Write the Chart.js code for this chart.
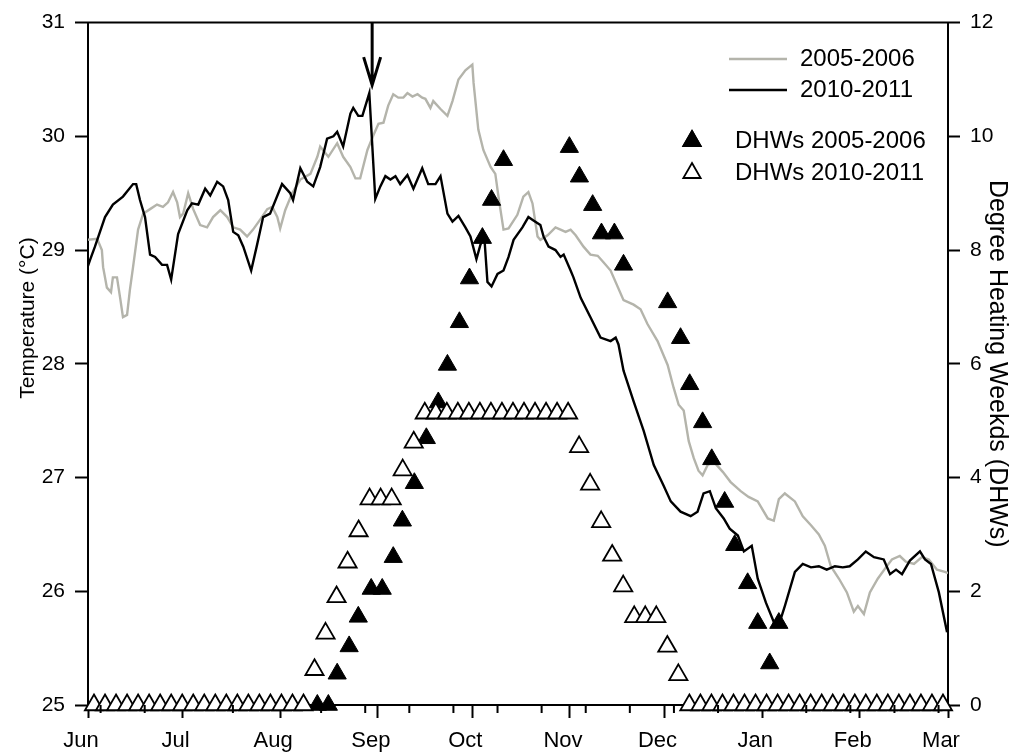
<!DOCTYPE html>
<html>
<head>
<meta charset="utf-8">
<script src="https://cdn.jsdelivr.net/npm/chart.js@4.4.1/dist/chart.umd.min.js"></script>
<style>
  html, body { margin: 0; padding: 0; background: #fff; }
  #wrap { width: 1017px; height: 756px; }
</style>
</head>
<body>
<div id="wrap"><canvas id="sstChart"></canvas></div>
<script>
// x values are days counted from 1 June
const monthTicks = [0, 30, 61, 92, 122, 153, 183, 214, 245, 273];
const monthLabels = ['Jun', 'Jul', 'Aug', 'Sep', 'Oct', 'Nov', 'Dec', 'Jan', 'Feb', 'Mar'];
const minorTicks = [4, 18, 46, 74, 88, 102, 116, 130, 144, 158, 172, 186, 200, 228, 242, 256, 270];
const tempTicks = [25, 26, 27, 28, 29, 30, 31];
const dhwTicks = [0, 2, 4, 6, 8, 10, 12];

// daily temperature, 2005-2006 (grey)
const sst2005Days = [0, 2.9, 4.4, 4.8, 6.0, 7.3, 7.9, 9.2, 10.2, 11.1,
  12.4, 13.3, 14.3, 15.9, 17.5, 19.7, 21.9, 23.8, 25.4, 27.0,
  28.3, 29.2, 30.2, 31.8, 33.4, 35.6, 37.8, 39.7, 42.0, 44.2,
  46.1, 48.3, 50.5, 52.4, 54.7, 56.9, 58.5, 60.1, 61.0, 62.6,
  64.8, 67.4, 70.6, 72.8, 73.7, 76.3, 79.1, 81.0, 83.3, 84.9,
  86.4, 88.7, 90.6, 92.2, 93.8, 95.3, 96.9, 98.5, 100.1, 101.4,
  103.0, 104.6, 106.1, 107.1, 108.7, 109.6, 111.9, 114.1, 115.7, 117.6,
  119.8, 122.0, 122.4, 123.9, 125.5, 127.8, 129.3, 130.3, 131.9, 133.5,
  136.3, 138.2, 139.8, 141.1, 142.7, 143.6, 145.9, 148.4, 150.0, 151.6,
  153.2, 154.8, 157.3, 159.5, 161.8, 163.7, 165.9, 170.0, 173.2, 175.4,
  177.6, 180.8, 184.0, 185.9, 187.5, 189.1, 190.7, 192.3, 193.8, 195.1,
  196.7, 198.6, 201.5, 204.0, 207.2, 209.7, 212.6, 215.8, 217.7, 219.3,
  221.2, 224.4, 226.9, 229.5, 232.0, 233.9, 235.8, 238.4, 240.9, 243.1,
  244.4, 246.3, 248.2, 250.7, 253.3, 255.2, 257.7, 259.6, 262.2, 264.7,
  266.9, 269.5, 272.0, 273.0];
const sst2005 = [29.09, 29.10, 29.00, 28.85, 28.67, 28.63, 28.76, 28.76, 28.58, 28.41,
  28.43, 28.65, 28.85, 29.18, 29.32, 29.36, 29.40, 29.38, 29.42, 29.51,
  29.42, 29.29, 29.32, 29.50, 29.36, 29.22, 29.20, 29.29, 29.35, 29.29,
  29.20, 29.18, 29.12, 29.18, 29.27, 29.36, 29.38, 29.29, 29.19, 29.35,
  29.50, 29.62, 29.67, 29.82, 29.91, 29.82, 29.94, 29.82, 29.73, 29.63,
  29.63, 29.88, 30.01, 30.11, 30.12, 30.27, 30.37, 30.34, 30.34, 30.38,
  30.35, 30.37, 30.34, 30.33, 30.25, 30.31, 30.24, 30.18, 30.31, 30.50,
  30.58, 30.63, 30.47, 30.06, 29.88, 29.73, 29.67, 29.47, 29.18, 29.19,
  29.31, 29.47, 29.51, 29.41, 29.12, 29.09, 29.13, 29.20, 29.18, 29.16,
  29.18, 29.13, 29.03, 28.96, 28.95, 28.89, 28.82, 28.56, 28.52, 28.48,
  28.35, 28.20, 27.99, 27.79, 27.64, 27.59, 27.32, 27.17, 27.06, 27.02,
  27.11, 27.14, 27.05, 26.96, 26.88, 26.83, 26.79, 26.64, 26.62, 26.81,
  26.86, 26.79, 26.66, 26.58, 26.50, 26.40, 26.22, 26.11, 25.99, 25.82,
  25.87, 25.80, 25.99, 26.11, 26.21, 26.28, 26.31, 26.26, 26.24, 26.30,
  26.28, 26.19, 26.17, 26.16];

// daily temperature, 2010-2011 (black)
const sst2010Days = [0, 0.6, 2.2, 5.4, 7.9, 11.1, 14.3, 15.3, 16.5, 18.1,
  19.7, 21.3, 23.5, 25.1, 26.4, 28.6, 31.5, 33.0, 35.0, 37.2,
  38.8, 41.0, 42.9, 44.5, 46.1, 47.7, 49.3, 51.8, 53.7, 55.6,
  57.8, 61.6, 64.2, 65.1, 67.4, 69.6, 71.5, 73.7, 75.9, 77.9,
  79.1, 81.0, 83.3, 84.2, 85.8, 87.1, 89.3, 91.2, 92.8, 94.4,
  96.0, 97.6, 99.1, 101.4, 103.3, 106.1, 108.0, 110.3, 111.9, 114.1,
  115.7, 117.6, 119.8, 121.4, 123.3, 124.6, 125.8, 126.8, 128.1, 130.0,
  131.9, 133.5, 135.1, 137.9, 139.8, 141.4, 143.6, 144.6, 146.2, 148.4,
  150.0, 151.0, 153.2, 154.1, 156.4, 159.5, 162.7, 165.9, 167.5, 168.4,
  170.0, 173.2, 176.4, 179.6, 182.7, 185.0, 188.1, 191.3, 193.5, 195.4,
  197.4, 199.3, 201.8, 203.7, 206.3, 208.2, 210.7, 212.6, 215.2, 217.7,
  219.6, 221.2, 224.4, 226.9, 229.5, 232.0, 234.5, 237.1, 239.6, 241.8,
  244.4, 246.9, 249.5, 252.6, 254.6, 256.5, 258.4, 260.9, 264.1, 265.7,
  267.6, 270.1, 272.7];
const sst2010 = [28.86, 28.91, 29.03, 29.29, 29.40, 29.47, 29.58, 29.58, 29.44, 29.29,
  28.96, 28.94, 28.87, 28.87, 28.74, 29.14, 29.35, 29.41, 29.40, 29.54,
  29.48, 29.60, 29.56, 29.44, 29.16, 29.13, 29.03, 28.82, 29.05, 29.29,
  29.32, 29.58, 29.50, 29.44, 29.72, 29.60, 29.56, 29.73, 29.98, 30.00,
  30.04, 29.91, 30.20, 30.25, 30.18, 30.18, 30.38, 29.45, 29.56, 29.65,
  29.62, 29.65, 29.58, 29.66, 29.54, 29.72, 29.58, 29.58, 29.65, 29.32,
  29.25, 29.30, 29.20, 29.12, 28.92, 29.05, 29.12, 28.72, 28.68, 28.79,
  28.82, 28.94, 29.09, 29.20, 29.29, 29.26, 29.22, 29.12, 29.03, 29.00,
  28.94, 28.96, 28.82, 28.76, 28.58, 28.41, 28.23, 28.20, 28.23, 28.17,
  27.94, 27.67, 27.41, 27.11, 26.93, 26.79, 26.70, 26.66, 26.70, 26.86,
  26.88, 26.73, 26.64, 26.55, 26.49, 26.35, 26.40, 26.11, 25.90, 25.73,
  25.73, 25.87, 26.17, 26.24, 26.21, 26.22, 26.19, 26.22, 26.21, 26.22,
  26.28, 26.35, 26.30, 26.28, 26.15, 26.19, 26.15, 26.27, 26.35, 26.28,
  26.24, 25.99, 25.64];

// degree heating weeks, 2005-2006 (filled triangles)
const dhw2005Days = [72.8, 76.3, 79.1, 82.9, 85.8, 89.9, 93.4, 96.9, 99.8, 103.6,
  107.4, 111.2, 114.1, 117.9, 121.1, 125.2, 128.1, 131.9,
  152.8, 156.0, 160.2, 163.0, 167.1, 170.0,
  184.0, 188.1, 191.0, 195.1, 198.0, 202.1, 205.3, 209.4, 212.6, 216.4, 219.3];
const dhw2005 = [0, 0, 0.55, 1.03, 1.55, 2.04, 2.04, 2.60, 3.24, 3.90,
  4.69, 5.32, 5.98, 6.73, 7.50, 8.21, 8.88, 9.58,
  9.81, 9.29, 8.79, 8.29, 8.29, 7.74,
  7.08, 6.45, 5.64, 4.97, 4.32, 3.57, 2.81, 2.14, 1.44, 0.73, 1.44];

// degree heating weeks, 2010-2011 (open triangles)
const dhw2010Days = [1.9, 5.4, 8.9, 12.4, 15.9, 19.4, 22.9, 26.4, 29.9, 33.4,
  36.9, 40.4, 43.9, 47.4, 50.9, 54.4, 57.9, 61.4, 64.9, 68.4,
  71.9, 75.4, 78.9, 82.4, 85.9, 89.4, 92.9, 96.4, 99.9, 103.4,
  106.9, 110.4, 113.9, 117.4, 120.9, 124.4, 127.9, 131.4, 134.9, 138.4,
  141.9, 145.4, 148.9, 152.4, 155.9, 159.4, 162.9, 166.4, 169.9, 173.4,
  176.9, 180.4, 183.9, 187.4, 190.9, 194.4, 197.9, 201.4, 204.9, 208.4,
  211.9, 215.4, 218.9, 222.4, 225.9, 229.4, 232.9, 236.4, 239.9, 243.4,
  246.9, 250.4, 253.9, 257.4, 260.9, 264.4, 267.9, 271.4];
const dhw2010 = [0, 0, 0, 0, 0, 0, 0, 0, 0, 0,
  0, 0, 0, 0, 0, 0, 0, 0, 0, 0,
  0.62, 1.26, 1.90, 2.51, 3.06, 3.62, 3.62, 3.62, 4.13, 4.62,
  5.13, 5.13, 5.13, 5.13, 5.13, 5.13, 5.13, 5.13, 5.13, 5.13,
  5.13, 5.13, 5.13, 5.13, 4.54, 3.88, 3.22, 2.63, 2.09, 1.55,
  1.55, 1.55, 1.03, 0.53, 0, 0, 0, 0, 0, 0,
  0, 0, 0, 0, 0, 0, 0, 0, 0, 0,
  0, 0, 0, 0, 0, 0, 0, 0];

const arrowDay = 90.2;
const arrowTip = 30.45;

const FONT = '"Liberation Sans", Arial, sans-serif';
const GREY = '#b4b4ab';

function pairs(xs, ys) {
    return xs.map((x, i) => ({ x: x, y: ys[i] }));
}

const decorPlugin = {
    id: 'decor',
    afterDraw(chart) {
        const { ctx, chartArea: a } = chart;
        const x = chart.scales.x;
        const yT = chart.scales.yTemp;
        ctx.save();
        ctx.strokeStyle = '#000';
        ctx.lineWidth = 2;

        // top frame line
        ctx.beginPath();
        ctx.moveTo(a.left - 1, a.top);
        ctx.lineTo(a.right + 1, a.top);
        ctx.stroke();

        // minor ticks on the date axis
        ctx.beginPath();
        minorTicks.forEach(d => {
            const px = x.getPixelForValue(d);
            ctx.moveTo(px, a.bottom);
            ctx.lineTo(px, a.bottom + 8);
        });
        ctx.stroke();

        // arrow marking the peak
        const ax = x.getPixelForValue(arrowDay);
        const tip = yT.getPixelForValue(arrowTip);
        ctx.lineWidth = 3;
        ctx.beginPath();
        ctx.moveTo(ax, a.top);
        ctx.lineTo(ax, tip);
        ctx.moveTo(ax - 8.5, tip - 28);
        ctx.lineTo(ax, tip);
        ctx.lineTo(ax + 8.5, tip - 28);
        ctx.stroke();

        // left axis title, sitting a little above the middle as in the figure
        ctx.save();
        ctx.translate(28, 318);
        ctx.rotate(-Math.PI / 2);
        ctx.font = '21px ' + FONT;
        ctx.fillStyle = '#000';
        ctx.textAlign = 'center';
        ctx.textBaseline = 'middle';
        ctx.fillText('Temperature (°C)', 0, 0);
        ctx.restore();

        // legend
        ctx.font = '24px ' + FONT;
        ctx.fillStyle = '#000';
        ctx.textBaseline = 'middle';
        ctx.textAlign = 'left';
        ctx.lineWidth = 2.5;
        ctx.strokeStyle = GREY;
        ctx.beginPath(); ctx.moveTo(729, 59); ctx.lineTo(787, 59); ctx.stroke();
        ctx.strokeStyle = '#000';
        ctx.beginPath(); ctx.moveTo(729, 90); ctx.lineTo(787, 90); ctx.stroke();
        ctx.fillText('2005-2006', 800, 59);
        ctx.fillText('2010-2011', 800, 90);
        ctx.lineWidth = 1.8;
        Chart.helpers.drawPoint(ctx, { pointStyle: 'triangle', radius: 10, rotation: 0, borderWidth: 1.8 }, 692, 141);
        ctx.fillStyle = '#000';
        ctx.fill();
        ctx.stroke();
        ctx.fillStyle = '#fff';
        Chart.helpers.drawPoint(ctx, { pointStyle: 'triangle', radius: 10, rotation: 0, borderWidth: 1.8 }, 692, 173);
        ctx.fillStyle = '#000';
        ctx.fillText('DHWs 2005-2006', 735, 141);
        ctx.fillText('DHWs 2010-2011', 735, 173);
        ctx.restore();
    }
};

function initSSTChart() {
    const ctx = document.getElementById('sstChart');

    new Chart(ctx.getContext('2d'), {
        type: 'scatter',
        data: {
            datasets: [
                {
                    label: 'DHWs 2010-2011',
                    data: pairs(dhw2010Days, dhw2010),
                    yAxisID: 'yDhw',
                    pointStyle: 'triangle',
                    pointRadius: 10.5,
                    pointBackgroundColor: '#fff',
                    pointBorderColor: '#000',
                    pointBorderWidth: 1.8,
                    showLine: false,
                    clip: false,
                    order: 0
                },
                {
                    label: 'DHWs 2005-2006',
                    data: pairs(dhw2005Days, dhw2005),
                    yAxisID: 'yDhw',
                    pointStyle: 'triangle',
                    pointRadius: 10.5,
                    pointBackgroundColor: '#000',
                    pointBorderColor: '#000',
                    pointBorderWidth: 1,
                    showLine: false,
                    clip: false,
                    order: 1
                },
                {
                    label: '2010-2011',
                    data: pairs(sst2010Days, sst2010),
                    yAxisID: 'yTemp',
                    showLine: true,
                    borderColor: '#000',
                    borderWidth: 2.4,
                    pointRadius: 0,
                    tension: 0,
                    order: 2
                },
                {
                    label: '2005-2006',
                    data: pairs(sst2005Days, sst2005),
                    yAxisID: 'yTemp',
                    showLine: true,
                    borderColor: GREY,
                    borderWidth: 2.4,
                    pointRadius: 0,
                    tension: 0,
                    order: 3
                }
            ]
        },
        options: {
            responsive: true,
            maintainAspectRatio: false,
            animation: false,
            layout: { padding: { top: 22, left: 0, right: 0, bottom: 0 } },
            plugins: {
                legend: { display: false },
                tooltip: { enabled: false }
            },
            scales: {
                x: {
                    type: 'linear',
                    position: 'bottom',
                    min: 0,
                    max: 273,
                    afterBuildTicks: s => { s.ticks = monthTicks.map(v => ({ value: v })); },
                    afterFit: s => { s.height = 51; },
                    ticks: {
                        autoSkip: false,
                        maxRotation: 0,
                        callback: v => monthLabels[monthTicks.indexOf(v)],
                        font: { size: 22, family: FONT },
                        color: '#000',
                        padding: 10,
                        labelOffset: -7
                    },
                    grid: { drawOnChartArea: false, tickLength: 13, tickWidth: 2, tickColor: '#000' },
                    border: { color: '#000', width: 2 }
                },
                yTemp: {
                    type: 'linear',
                    position: 'left',
                    min: 25,
                    max: 31,
                    afterBuildTicks: s => { s.ticks = tempTicks.map(v => ({ value: v })); },
                    afterFit: s => { s.width = 88; },
                    ticks: { font: { size: 21, family: FONT }, color: '#000', padding: 10 },
                    grid: { drawOnChartArea: false, tickLength: 13, tickWidth: 2, tickColor: '#000' },
                    border: { color: '#000', width: 2 },
                    title: { display: false }
                },
                yDhw: {
                    type: 'linear',
                    position: 'right',
                    min: 0,
                    max: 12,
                    afterBuildTicks: s => { s.ticks = dhwTicks.map(v => ({ value: v })); },
                    afterFit: s => { s.width = 69; },
                    ticks: { font: { size: 21, family: FONT }, color: '#000', padding: 10 },
                    grid: { drawOnChartArea: false, tickLength: 12, tickWidth: 2, tickColor: '#000' },
                    border: { color: '#000', width: 2 },
                    title: {
                        display: true,
                        text: 'Degree Heating Weekds (DHWs)',
                        font: { size: 25, family: FONT },
                        color: '#000',
                        padding: { top: 5, bottom: 0 }
                    }
                }
            }
        },
        plugins: [decorPlugin]
    });
}

document.addEventListener('DOMContentLoaded', initSSTChart);
</script>
</body>
</html>
